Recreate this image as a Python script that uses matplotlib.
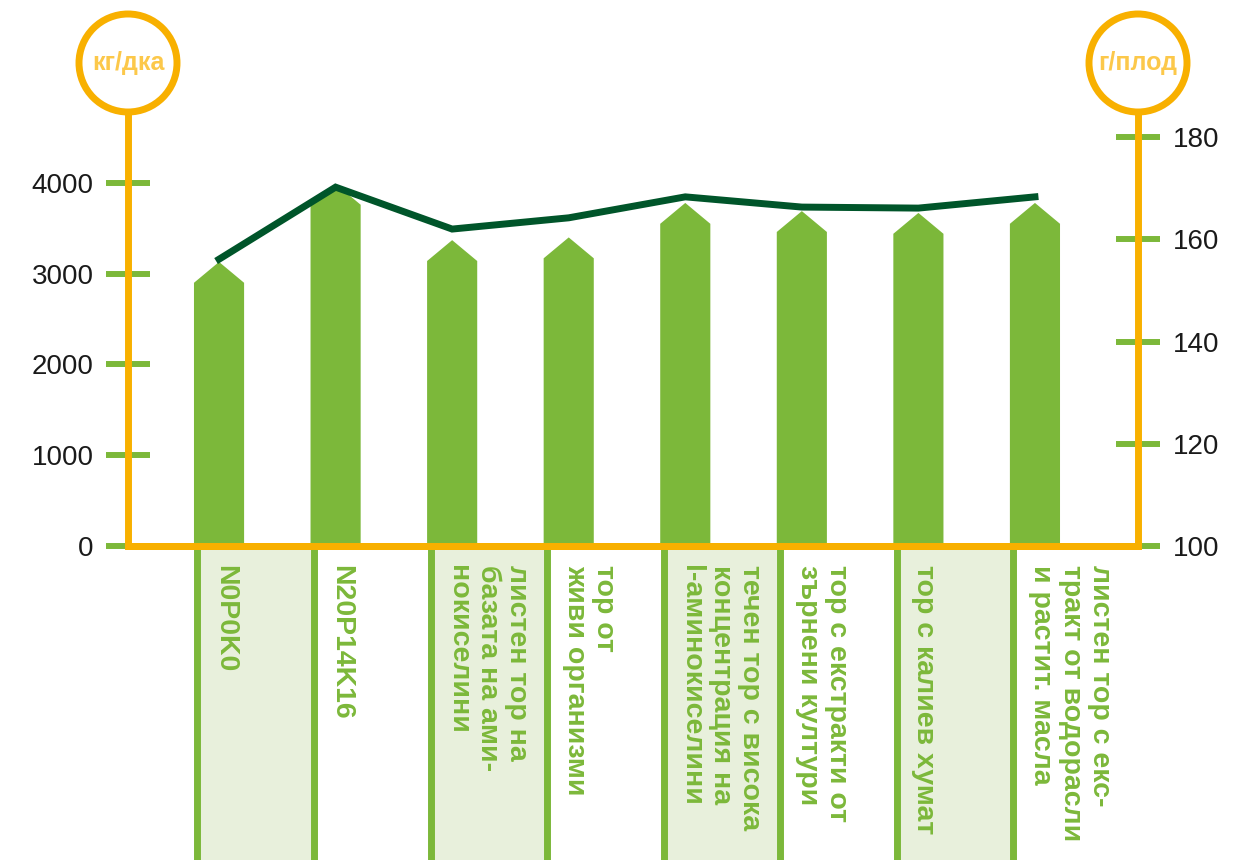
import numpy as np
import matplotlib.pyplot as plt
from matplotlib.patches import Polygon, Circle

# Данни
categories = ["N0P0K0", "N20P14K16",
              "листен тор на\nбазата на ами-\nнокиселини",
              "тор от\nживи организми",
              "течен тор с висока\nконцентрация на\nl-аминокиселини",
              "тор с екстракти от\nзърнени култури",
              "тор с калиев хумат",
              "листен тор с екс-\nтракт от водорасли\nи растит. масла"]
yield_kg = [3130, 3990, 3370, 3400, 3780, 3690, 3670, 3780]   # кг/дка (лява ос)
fruit_g = [156.1, 170.2, 162.0, 164.2, 168.3, 166.3, 166.1, 168.3]  # г/плод (дясна ос)
left_ticks = [0, 1000, 2000, 3000, 4000]
right_ticks = [100, 120, 140, 160, 180]

GREEN = "#7cb83a"
LIGHT = "#e8f0dc"
ORANGE = "#f8b000"
DARK = "#00552a"
TXT_ORANGE = "#fcc84a"

plt.rcParams['font.family'] = ['Liberation Sans', 'DejaVu Sans']
NARROW = ['Liberation Sans Narrow', 'Liberation Sans', 'DejaVu Sans']

fig = plt.figure(figsize=(12.46, 8.6), dpi=100)
ax = fig.add_axes([128/1246, 314/860, 1010/1246, 434/860])
ax2 = ax.twinx()

n = len(categories)
x = np.arange(n)
w = 0.43
roof = 230

ax.set_xlim(-0.781, 7.884)
ax.set_ylim(0, 4782)
ax2.set_ylim(100, 184.9)

# стълбове с "покрив"
for xi, v in zip(x, yield_kg):
    pts = [(xi - w/2, 0), (xi - w/2, v - roof), (xi, v), (xi + w/2, v - roof), (xi + w/2, 0)]
    ax.add_patch(Polygon(pts, closed=True, facecolor=GREEN, edgecolor='none', zorder=2))

# линия
ax2.plot(x, fruit_g, color=DARK, lw=5, solid_joinstyle='miter', zorder=3)

# колони с надписи под оста
for i in range(n):
    left = x[i] - w/2
    if i % 2 == 0 and i + 1 < n:
        sp = ax.axvspan(left + 0.03, x[i+1] - w/2 + 0.03, ymin=-0.75, ymax=0, facecolor=LIGHT,
                        edgecolor='none', zorder=0)
        sp.set_clip_on(False)
    ax.axvline(left + 0.03, ymin=-0.75, ymax=0, color=GREEN, lw=5, clip_on=False, zorder=1)
    ax.text(left + 0.155, -0.044, categories[i], transform=ax.get_xaxis_transform(),
            rotation=-90, ha='left', va='top', multialignment='left', linespacing=1.18,
            fontsize=20.5, fontweight='bold', color=GREEN, family=NARROW)

# оси
for a in (ax, ax2):
    for s in a.spines.values():
        s.set_visible(False)
    a.tick_params(axis='y', direction='inout', length=31.7, width=4.3, color=GREEN,
                  pad=9, labelsize=20, labelcolor='#1a1a1a')
ax.spines['left'].set_visible(True)
ax.spines['bottom'].set_visible(True)
ax2.spines['right'].set_visible(True)
ax2.spines['bottom'].set_visible(True)
for s in (ax.spines['left'], ax.spines['bottom'], ax2.spines['right'], ax2.spines['bottom']):
    s.set_color(ORANGE)
    s.set_linewidth(5)
    s.set_capstyle('projecting')
ax.spines['bottom'].set_zorder(5)
ax.set_xticks([])
ax.set_yticks(left_ticks)
ax2.set_yticks(right_ticks)

# кръгове с единиците
pos = ax.get_position()
cy = pos.y1 * 8.6 + 0.49
for cx, label in ((pos.x0 * 12.46, "кг/дка"), (pos.x1 * 12.46, "г/плод")):
    fig.add_artist(Circle((cx, cy), 0.49, transform=fig.dpi_scale_trans, facecolor='white',
                          edgecolor=ORANGE, lw=5))
    fig.text(cx / 12.46, cy / 8.6, label, ha='center', va='center', fontsize=18,
             fontweight='bold', color=TXT_ORANGE, family=NARROW)

fig.savefig("out.png", dpi=100)
